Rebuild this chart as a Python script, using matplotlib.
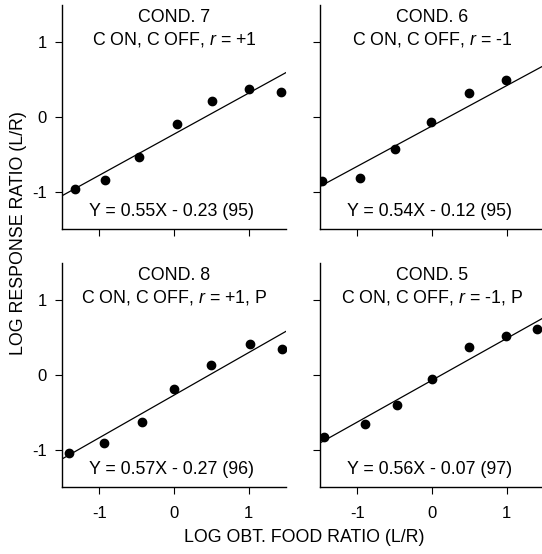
import numpy as np
import matplotlib
matplotlib.use('Agg')
import matplotlib.pyplot as plt

plt.rcParams['font.family'] = ['Liberation Sans', 'DejaVu Sans']
plt.rcParams['mathtext.fontset'] = 'custom'
plt.rcParams['mathtext.rm'] = 'Liberation Sans'
plt.rcParams['mathtext.it'] = 'Liberation Sans:italic'
plt.rcParams['axes.unicode_minus'] = False

# panel data
titles = ['COND. 7', 'COND. 6', 'COND. 8', 'COND. 5']
subtitles = ['C ON, C OFF, $r$ = +1', 'C ON, C OFF, $r$ = -1',
             'C ON, C OFF, $r$ = +1, P', 'C ON, C OFF, $r$ = -1, P']

x7 = [-1.33, -0.93, -0.47, 0.04, 0.51, 1.00, 1.43]
y7 = [-0.97, -0.84, -0.54, -0.10, 0.22, 0.37, 0.34]
x6 = [-1.47, -0.96, -0.49, -0.01, 0.50, 0.99]
y6 = [-0.86, -0.82, -0.43, -0.07, 0.32, 0.50]
x8 = [-1.41, -0.94, -0.43, 0.00, 0.49, 1.02, 1.45]
y8 = [-1.05, -0.91, -0.63, -0.19, 0.14, 0.41, 0.35]
x5 = [-1.45, -0.90, -0.47, 0.00, 0.50, 0.99, 1.41]
y5 = [-0.83, -0.66, -0.40, -0.06, 0.37, 0.52, 0.61]

slopes = [0.55, 0.54, 0.57, 0.56]
intercepts = [-0.23, -0.12, -0.27, -0.07]
vaf = [95, 95, 96, 97]

xs = [x7, x6, x8, x5]
ys = [y7, y6, y8, y5]

W, H = 542, 554
fig = plt.figure(figsize=(W / 100, H / 100), dpi=100)

# axes boxes in pixels: left, top
boxes = [(62, 5), (320, 5), (62, 263), (320, 263)]
aw, ah = 224, 224

for k in range(4):
    l, t = boxes[k]
    ax = fig.add_axes([l / W, (H - t - ah) / H, aw / W, ah / H])
    ax.plot(xs[k], ys[k], 'o', color='black', ms=6, zorder=3)
    xl = np.array([-1.5, 1.5])
    ax.plot(xl, slopes[k] * xl + intercepts[k], color='black', lw=0.9)
    ax.set_xlim(-1.5, 1.5)
    ax.set_ylim(-1.5, 1.5)
    ax.set_xticks([-1, 0, 1])
    ax.set_yticks([-1, 0, 1])
    for s in ['top', 'right']:
        ax.spines[s].set_visible(False)
    for s in ['left', 'bottom']:
        ax.spines[s].set_linewidth(1.0)
    ax.tick_params(direction='out', length=5, width=0.8, labelsize=12)
    ax.tick_params(axis='x', pad=9)
    ax.tick_params(axis='y', pad=6)
    if k % 2 == 1:
        ax.set_yticklabels([])
    if k < 2:
        ax.set_xticklabels([])
    ax.text(0.5, 0.946, titles[k], transform=ax.transAxes, ha='center',
            va='center', fontsize=12.8)
    ax.text(0.5, 0.844, subtitles[k], transform=ax.transAxes, ha='center',
            va='center', fontsize=12.8)
    sign = '-' if intercepts[k] < 0 else '+'
    eq = 'Y = %.2fX %s %.2f (%d)' % (slopes[k], sign, abs(intercepts[k]), vaf[k])
    ax.text(0.49, 0.08, eq, transform=ax.transAxes, ha='center',
            va='center', fontsize=12.8)

fig.text(19 / W, 1 - 233 / H, 'LOG RESPONSE RATIO (L/R)', rotation=90,
         ha='center', va='center', fontsize=12.8)
fig.text(304 / W, 1 - 537 / H, 'LOG OBT. FOOD RATIO (L/R)',
         ha='center', va='center', fontsize=12.8)

fig.savefig('out.png', dpi=100)
